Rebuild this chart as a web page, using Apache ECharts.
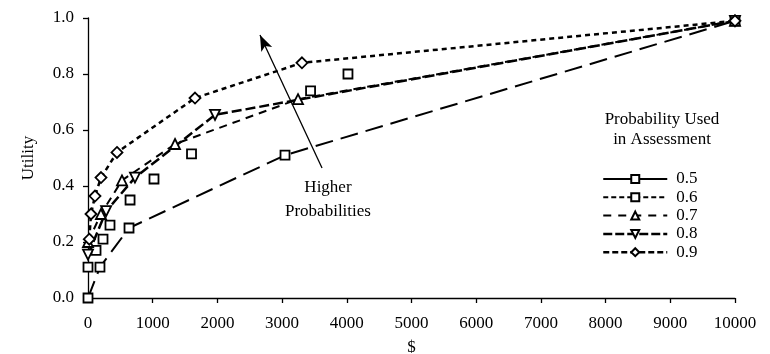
<!DOCTYPE html>
<html>
<head>
<meta charset="utf-8">
<script src="https://cdn.jsdelivr.net/npm/echarts@6/dist/echarts.min.js"></script>
<style>html,body{margin:0;padding:0;background:#fff}#c{width:770px;height:354px}</style>
</head>
<body>
<div id="c"></div>
<script>
var seriesNames = ['0.5', '0.6', '0.7', '0.8', '0.9'];
var x05 = [0, 185, 634, 3045, 10000];
var y05 = [0, 0.11, 0.25, 0.51, 0.99];
var x06 = [0, 124, 232, 340, 650, 1020, 1600, 3440, 4018];
var y06 = [0.11, 0.17, 0.21, 0.26, 0.35, 0.425, 0.515, 0.74, 0.80];
var x07 = [0, 200, 525, 1345, 3246, 10000];
var y07 = [0.20, 0.30, 0.42, 0.55, 0.71, 0.99];
var x08 = [0, 280, 726, 1963, 10000];
var y08 = [0.155, 0.31, 0.43, 0.654, 0.99];
var x09 = [20, 46, 108, 201, 448, 1654, 3307, 10000];
var y09 = [0.21, 0.30, 0.364, 0.43, 0.52, 0.714, 0.84, 0.99];
var arrowFrom = [3617, 0.464];
var arrowTo = [2658, 0.939];
var noteAt = [3709, 0.35];

function zip(xs, ys) { return xs.map(function (x, i) { return [x, ys[i]]; }); }
var FONT = 'Liberation Serif';
var sym = { color: '#fff', borderColor: '#000', borderWidth: 1.8 };

var chart = echarts.init(document.getElementById('c'), null, { renderer: 'canvas' });
chart.setOption({
  animation: false,
  backgroundColor: '#fff',
  textStyle: { fontFamily: FONT, color: '#000' },
  grid: { left: 88, right: 35, top: 18, bottom: 56, containLabel: false, outerBoundsMode: 'none' },
  title: {
    text: 'Probability Used\nin Assessment',
    left: 662, top: 110, padding: 0, textAlign: 'center',
    textStyle: { fontFamily: FONT, fontSize: 17, fontWeight: 'normal', color: '#000', lineHeight: 20 }
  },
  legend: {
    orient: 'vertical', left: 597, top: 165.5,
    itemWidth: 64, itemHeight: 10, itemGap: 1.3,
    symbolRotate: 'inherit',
    textStyle: { fontFamily: FONT, fontSize: 17, lineHeight: 17, color: '#000', padding: [0, 0, 0, 4] },
    data: [
      { name: '0.5', lineStyle: { type: 'solid', width: 2, color: '#000' } },
      { name: '0.6', lineStyle: { type: [5, 3], width: 2, color: '#000', opacity: 1 } },
      { name: '0.7', lineStyle: { type: [8, 7], width: 2, color: '#000' } },
      { name: '0.8', lineStyle: { type: [9, 3], width: 2.5, color: '#000' } },
      { name: '0.9', lineStyle: { type: [6, 3], width: 2.5, color: '#000' } }
    ]
  },
  xAxis: {
    type: 'value', min: 0, max: 10000, interval: 1000,
    name: '$', nameLocation: 'middle', nameGap: 41,
    nameTextStyle: { fontFamily: FONT, fontSize: 17, color: '#000' },
    axisLine: { lineStyle: { color: '#000', width: 1.3 } },
    axisTick: { show: true, inside: false, length: 5, lineStyle: { color: '#000', width: 1.3 } },
    axisLabel: { fontFamily: FONT, fontSize: 17, color: '#000', margin: 17,
      formatter: function (v) { return String(v); } },
    splitLine: { show: false }
  },
  yAxis: {
    type: 'value', min: 0, max: 1, interval: 0.2,
    name: 'Utility', nameLocation: 'middle', nameGap: 51,
    nameTextStyle: { fontFamily: FONT, fontSize: 17, color: '#000' },
    axisLine: { show: true, lineStyle: { color: '#000', width: 1.3 } },
    axisTick: { show: true, inside: false, length: 5, lineStyle: { color: '#000', width: 1.3 } },
    axisLabel: { fontFamily: FONT, fontSize: 17, color: '#000', margin: 14,
      formatter: function (v) { return v.toFixed(1); } },
    splitLine: { show: false }
  },
  series: [
    {
      name: seriesNames[0], type: 'line', data: zip(x05, y05),
      symbol: 'rect', symbolSize: 9, itemStyle: sym,
      lineStyle: { color: '#000', width: 2, type: [18, 8] }, z: 3
    },
    {
      name: seriesNames[1], type: 'line', data: zip(x06, y06),
      symbol: 'rect', symbolSize: 9, itemStyle: sym,
      lineStyle: { color: '#000', width: 0, opacity: 0 }, z: 3
    },
    {
      name: seriesNames[2], type: 'line', data: zip(x07, y07),
      symbol: 'triangle', symbolSize: 10, itemStyle: sym,
      lineStyle: { color: '#000', width: 2, type: [8, 6] }, z: 3
    },
    {
      name: seriesNames[3], type: 'line', data: zip(x08, y08),
      symbol: 'triangle', symbolRotate: 180, symbolSize: 10, itemStyle: sym,
      lineStyle: { color: '#000', width: 2.5, type: [10, 4] }, z: 3
    },
    {
      name: seriesNames[4], type: 'line', data: zip(x09, y09),
      symbol: 'diamond', symbolSize: [11, 11], itemStyle: sym,
      lineStyle: { color: '#000', width: 2.5, type: [5, 4] }, z: 3,
      markLine: {
        silent: true, symbol: ['none', 'arrow'], symbolSize: [9, 16],
        lineStyle: { color: '#000', width: 1.3, type: 'solid' },
        label: { show: false },
        data: [[{ coord: arrowFrom }, { coord: arrowTo }]]
      },
      markPoint: {
        silent: true, symbol: 'circle', symbolSize: 0,
        label: { show: true, position: 'inside', formatter: 'Higher\nProbabilities',
          fontFamily: FONT, fontSize: 17, color: '#000', lineHeight: 24, align: 'center' },
        data: [{ coord: noteAt }]
      }
    }
  ]
});
</script>
</body>
</html>
